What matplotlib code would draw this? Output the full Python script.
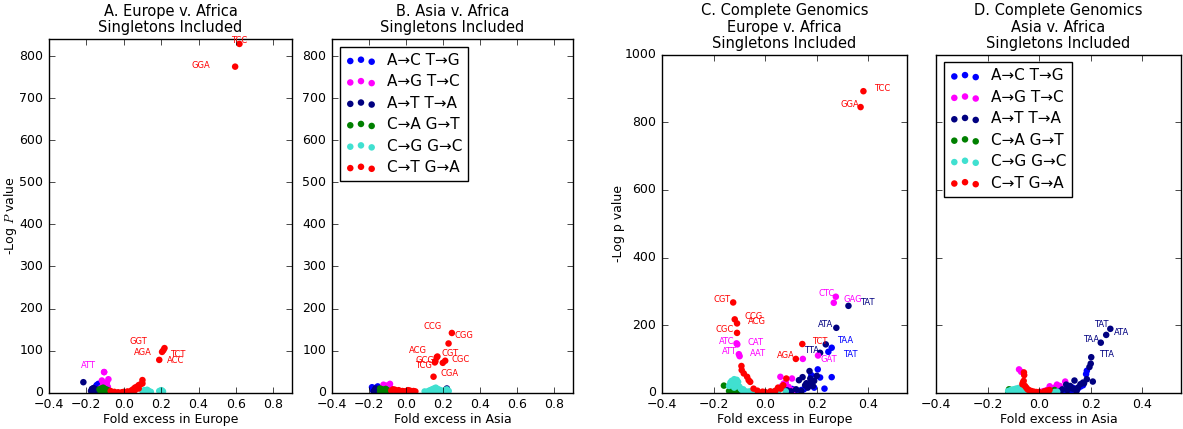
import matplotlib
matplotlib.use("Agg")
import matplotlib.pyplot as plt

plt.style.use("classic")
plt.rcParams["font.family"] = ["DejaVu Sans"]
plt.rcParams["savefig.facecolor"] = "white"
plt.rcParams["figure.facecolor"] = "white"

# mutation classes and colours
classes = ["A\u2192C T\u2192G", "A\u2192G T\u2192C", "A\u2192T T\u2192A",
           "C\u2192A G\u2192T", "C\u2192G G\u2192C", "C\u2192T G\u2192A"]
colors = ["#0000ff", "#ff00ff", "#000080", "#008000", "#40e0d0", "#ff0000"]

# ---------------- panel A: Europe v. Africa ----------------
A_x = [
    [-0.17, -0.16, -0.155, -0.15, -0.145, -0.14, -0.136, -0.13, -0.15, -0.16, -0.14, -0.125, -0.135, -0.145, -0.155, -0.13],
    [-0.105, -0.117, -0.082, -0.095, -0.11, -0.12, -0.1, -0.09, -0.105, -0.115, -0.125, -0.085, -0.1, -0.11, -0.095, -0.13],
    [-0.216, -0.162, -0.17, -0.155, -0.15, -0.14, -0.165, -0.145, -0.175, -0.135, -0.16, -0.15, -0.14, -0.17, -0.155, -0.145],
    [-0.13, -0.125, -0.12, -0.115, -0.11, -0.105, -0.1, -0.095, -0.09, -0.085, -0.08, -0.075, -0.07, -0.065, -0.11, -0.1],
    [0.1, 0.11, 0.12, 0.13, 0.14, 0.125, 0.115, 0.135, 0.19, 0.2, 0.21, 0.195, 0.205, 0.105, 0.145, 0.2],
    [-0.07, -0.05, -0.03, -0.01, 0.0, 0.02, 0.04, 0.05, 0.06, 0.07, 0.08, 0.09, 0.1, 0.06, 0.08, 0.1],
]
A_y = [
    [4, 8, 12, 6, 15, 10, 21, 3, 2, 5, 7, 4, 11, 18, 9, 13],
    [49, 29, 32, 22, 18, 12, 8, 24, 15, 6, 10, 14, 3, 20, 9, 4],
    [25, 11, 6, 4, 8, 3, 2, 5, 4, 2, 7, 3, 6, 9, 1, 4],
    [8, 5, 10, 3, 12, 6, 9, 4, 7, 2, 5, 3, 2, 1, 4, 6],
    [4, 6, 3, 5, 2, 7, 2, 3, 4, 6, 3, 2, 5, 1, 2, 1],
    [4, 2, 1, 1, 2, 3, 5, 8, 12, 14, 18, 20, 30, 6, 10, 22],
]
A_lab_names = ["TCC", "GGA", "GGT", "TCT", "AGA", "ACC", "ATT"]
A_lab_class = [5, 5, 5, 5, 5, 5, 1]
A_lab_x = [0.619, 0.596, 0.218, 0.212, 0.205, 0.19, -0.105]
A_lab_y = [829, 775, 106, 101, 97, 78, 49]

# ---------------- panel B: Asia v. Africa ----------------
B_x = [
    [-0.184, -0.153, -0.17, -0.16, -0.14, -0.175, -0.15, -0.165, -0.145, -0.18, -0.155, -0.13, -0.17, -0.16, -0.15, -0.14],
    [-0.122, -0.087, -0.1, -0.11, -0.095, -0.115, -0.105, -0.09, -0.12, -0.1, -0.08, -0.11, -0.13, -0.095, -0.085, -0.105],
    [-0.16, -0.17, -0.15, -0.165, -0.155, -0.145, -0.03, 0.22, 0.215, -0.16, -0.175, -0.14, -0.15, -0.16, -0.02, 0.21],
    [-0.14, -0.13, -0.12, -0.11, -0.1, -0.09, -0.135, -0.125, -0.115, -0.105, -0.095, -0.13, -0.12, -0.11, -0.1, -0.14],
    [0.1, 0.12, 0.13, 0.14, 0.15, 0.16, 0.17, 0.18, 0.19, 0.2, 0.21, 0.22, 0.23, 0.135, 0.155, 0.175],
    [-0.08, -0.06, -0.04, -0.02, 0.0, 0.02, 0.04, 0.05, -0.07, -0.05, -0.03, -0.01, 0.01, 0.03, 0.198],
]
B_y = [
    [13, 15, 8, 10, 6, 4, 3, 9, 5, 7, 2, 3, 11, 5, 12, 1],
    [19, 21, 15, 12, 10, 8, 6, 14, 5, 4, 7, 3, 9, 2, 11, 17],
    [8, 5, 3, 10, 6, 4, 2, 10, 5, 2, 3, 6, 9, 1, 3, 2],
    [10, 8, 6, 5, 4, 3, 5, 3, 7, 2, 2, 2, 1, 9, 6, 3],
    [3, 4, 6, 8, 10, 12, 9, 7, 5, 4, 6, 8, 4, 3, 2, 2],
    [5, 7, 6, 4, 3, 5, 4, 3, 8, 4, 2, 3, 6, 2, 71],
]
B_lab_names = ["CGG", "CCG", "CGT", "ACG", "GCG", "TCG", "CGC", "CGA"]
B_lab_class = [5, 5, 5, 5, 5, 5, 5, 5]
B_lab_x = [0.247, 0.229, 0.169, 0.165, 0.158, 0.155, 0.211, 0.148]
B_lab_y = [142, 117, 86, 84, 75, 72, 76, 38]

# ---------------- panel C: Complete Genomics, Europe v. Africa ----------------
C_x = [
    [0.204, 0.179, 0.213, 0.258, 0.11, 0.1, 0.12, 0.15, 0.19, 0.23, 0.085, 0.095, 0.14, 0.17, 0.105, 0.09],
    [0.059, 0.104, 0.072, 0.091, 0.11, 0.146, 0.05, 0.08, 0.065, 0.095, -0.13, -0.12, 0.04, 0.085],
    [0.172, 0.145, 0.131, 0.16, 0.18, 0.185, 0.165, 0.085, 0.213, 0.12, 0.14, 0.155, 0.1, 0.19, 0.175, 0.2],
    [-0.16, -0.12, -0.13, -0.11, -0.1, -0.125, -0.14, 0.03, 0.04],
    [-0.14, -0.135, -0.13, -0.125, -0.12, -0.115, -0.11, -0.105, -0.1, -0.095, -0.09, -0.085, -0.08, -0.07, -0.12, -0.11, 0.05, 0.08, -0.06, -0.04],
    [-0.092, -0.091, -0.083, -0.07, -0.064, -0.058, -0.045, -0.03, -0.01, 0.0, 0.02, 0.04, 0.06, 0.082, 0.07, 0.05],
]
C_y = [
    [69, 52, 45, 46, 7, 3, 5, 10, 15, 12, 4, 2, 8, 20, 11, 6],
    [47, 42, 27, 17, 8, 100, 12, 30, 20, 5, 30, 20, 4, 10],
    [64, 46, 37, 28, 30, 20, 15, 7, 118, 10, 5, 22, 4, 35, 42, 50],
    [21, 4, 6, 3, 2, 8, 5, 2, 1],
    [20, 30, 35, 25, 15, 28, 22, 32, 18, 12, 8, 10, 5, 3, 40, 38, 3, 4, 4, 2],
    [79, 67, 57, 47, 37, 32, 12, 6, 3, 2, 4, 6, 12, 42, 22, 15],
]
C_lab_names = ["TCC", "GGA", "CGT", "CCG", "ACG", "CGC", "AGA", "TCT",
               "ATC", "CAT", "ATT", "AAT", "CTC", "GAG", "GAT",
               "TAT", "ATA", "TTA", "TAA", "TAT"]
C_lab_class = [5, 5, 5, 5, 5, 5, 5, 5,
               1, 1, 1, 1, 1, 1, 1,
               2, 2, 2, 0, 0]
C_lab_x = [0.381, 0.370, -0.124, -0.118, -0.109, -0.109, 0.119, 0.144,
           -0.111, -0.108, -0.102, -0.099, 0.274, 0.266, 0.205,
           0.323, 0.276, 0.235, 0.258, 0.245]
C_lab_y = [892, 845, 267, 217, 205, 177, 100, 144,
           146, 143, 114, 108, 284, 266, 110,
           257, 192, 143, 133, 121]

# ---------------- panel D: Complete Genomics, Asia v. Africa ----------------
D_x = [
    [0.185, 0.182, 0.11, 0.12, 0.13, 0.1, 0.09, 0.14, 0.115, 0.125, 0.105, 0.095, 0.135, 0.15, 0.16, 0.17],
    [-0.078, 0.041, 0.069, 0.101, 0.03, 0.05, 0.06, 0.02, -0.07, 0.08, 0.04, 0.01, 0.055, 0.07, 0.045, 0.035],
    [0.2, 0.195, 0.208, 0.174, 0.137, 0.105, 0.12, 0.15, 0.16, 0.09, 0.13, 0.17, 0.185, 0.11, 0.145, 0.08],
    [-0.117, -0.11, 0.06, -0.1, 0.05, -0.105, 0.055, -0.12],
    [-0.12, -0.11, -0.1, -0.09, -0.08, -0.07, -0.06, -0.05, -0.04, -0.03, 0.06, 0.07, -0.1, -0.08, -0.06, -0.05],
    [-0.059, -0.058, -0.063, -0.065, -0.055, -0.05, -0.045, -0.04, -0.03, -0.02, -0.01, 0.0, 0.02, 0.03, 0.04, -0.06],
]
D_y = [
    [65, 55, 10, 12, 15, 5, 3, 8, 6, 4, 2, 3, 10, 12, 18, 22],
    [69, 19, 24, 33, 8, 12, 15, 5, 62, 20, 6, 3, 10, 9, 4, 2],
    [86, 76, 33, 28, 36, 24, 20, 15, 25, 10, 12, 30, 40, 8, 5, 4],
    [10, 8, 8, 6, 5, 4, 3, 2],
    [5, 8, 10, 12, 14, 10, 8, 6, 4, 3, 2, 3, 3, 4, 2, 1],
    [60, 52, 30, 25, 20, 15, 10, 8, 5, 3, 2, 2, 4, 6, 8, 35],
]
D_lab_names = ["TAT", "ATA", "TAA", "TTA"]
D_lab_class = [2, 2, 2, 2]
D_lab_x = [0.276, 0.26, 0.239, 0.202]
D_lab_y = [189, 171, 148, 105]

# label text offsets in pixels (dx, dy, ha) - layout only
A_off = [(0, 3, "center"), (-25, 1, "right"), (-17, 7, "right"), (7, -4, "left"),
         (-10, -1, "right"), (8, -1, "left"), (-8, 7, "right")]
B_off = [(3, -3, "left"), (-7, 17, "right"), (4, 3, "left"), (-10, 7, "right"),
         (-1, 1, "right"), (-3, -3, "right"), (6, 1, "left"), (7, 3, "left")]
C_off = [(11, 3, "left"), (-1, 3, "right"), (-3, 3, "right"), (10, 3, "left"),
         (11, 2, "left"), (-3, 3, "right"), (-1, 3, "right"), (10, 3, "left"),
         (-2, 2, "right"), (10, 2, "left"), (-2, 3, "right"), (10, 3, "left"),
         (-1, 3, "right"), (10, 3, "left"), (2, -4, "left"),
         (12, 3, "left"), (-3, 3, "right"), (-7, -6, "right"), (5, 7, "left"), (15, -3, "left")]
D_off = [(-2, 4, "right"), (8, 2, "left"), (-2, 3, "right"), (8, 3, "left")]

fig = plt.figure(figsize=(11.83, 4.29), dpi=100)


def panel(rect, xs, ys, names, cls, lx, ly, offs, title, xlabel, xmax, ylim, yticks):
    ax = fig.add_axes(rect)
    for k in range(6):
        ax.scatter(xs[k], ys[k], s=22, c=colors[k], edgecolors="none", label=classes[k])
    ax.scatter(lx, ly, s=22, c=[colors[c] for c in cls], edgecolors="none")
    for name, c, x, y, (dx, dy, ha) in zip(names, cls, lx, ly, offs):
        ax.annotate(name, (x, y), xytext=(dx, dy), textcoords="offset pixels",
                    ha=ha, va="center", fontsize=6, color=colors[c])
    ax.set_xlim(-0.4, xmax)
    ax.set_ylim(*ylim)
    ax.set_yticks(yticks)
    ax.set_title(title, fontsize=10.5, linespacing=1.1)
    ax.set_xlabel(xlabel, fontsize=9, labelpad=1.5)
    ax.tick_params(labelsize=9)
    return ax


def add_legend(ax):
    ax.legend(loc="upper left", scatterpoints=3, fontsize=11, labelspacing=0.42,
              borderaxespad=0.5, handletextpad=0.7)


axA = panel([0.0414, 0.0846, 0.2054, 0.8238], A_x, A_y, A_lab_names, A_lab_class,
            A_lab_x, A_lab_y, A_off, "A. Europe v. Africa\nSingletons Included",
            "Fold excess in Europe", 0.9, (0, 840), range(0, 900, 100))
axA.set_ylabel("-Log $P$ value", fontsize=9, labelpad=0)

axB = panel([0.2806, 0.0846, 0.2037, 0.8238], B_x, B_y, B_lab_names, B_lab_class,
            B_lab_x, B_lab_y, B_off, "B. Asia v. Africa\nSingletons Included",
            "Fold excess in Asia", 0.9, (0, 840), range(0, 900, 100))
add_legend(axB)

axC = panel([0.5596, 0.0846, 0.2071, 0.7879], C_x, C_y, C_lab_names, C_lab_class,
            C_lab_x, C_lab_y, C_off, "C. Complete Genomics\nEurope v. Africa\nSingletons Included",
            "Fold excess in Europe", 0.55, (0, 1000), range(0, 1001, 200))
axC.set_ylabel("-Log p value", fontsize=9, labelpad=0)

axD = panel([0.7912, 0.0846, 0.2071, 0.7879], D_x, D_y, D_lab_names, D_lab_class,
            D_lab_x, D_lab_y, D_off, "D. Complete Genomics\nAsia v. Africa\nSingletons Included",
            "Fold excess in Asia", 0.55, (0, 1000), range(0, 1001, 200))
axD.set_yticklabels([])
add_legend(axD)

fig.savefig("out.png", dpi=100)
